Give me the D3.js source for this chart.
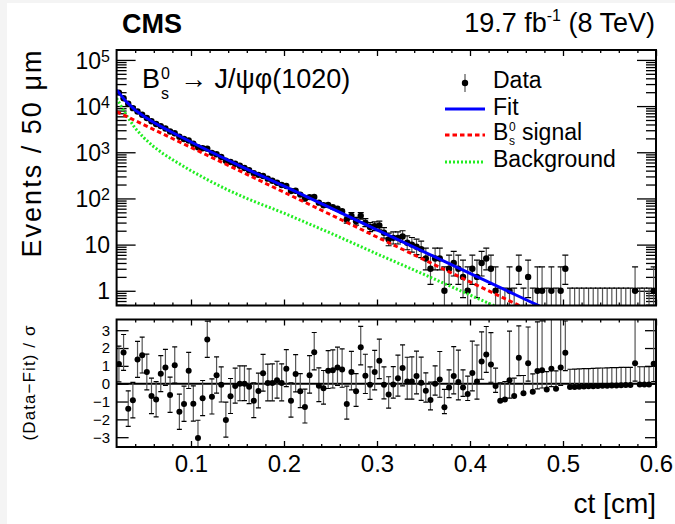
<!DOCTYPE html>
<html><head><meta charset="utf-8">
<script src="https://cdn.jsdelivr.net/npm/d3@7"></script>
<style>
body{margin:0;background:#fff}
svg{display:block}
text{font-family:"Liberation Sans",Arial,Helvetica,sans-serif;fill:#000}
</style>
</head><body>
<svg id="c" width="675" height="524"></svg>
<script>
// ---------------- data ----------------
const binStart = 0.02, binWidth = 0.005;   // 50 um bins
const counts = [19553,14832,11201,9031,7638,6508,5518,4702,4093,3684,
  3272,2816,2572,2165,1939,1801,1531,1286,1221,1198,
  972,903,792,656,617,566,510,457,407,350,
  324,307,268,241,219,195,186,145,147,121,
  99,107,108,81,71,72,65,60,53,35,
  42,32,42,30,24,25,26,18,13,14,
  14,15,11,10,9,8,5,3,5,5,
  1,3,4,3,2,1,3,2,4,5,
  3,1,0,0,1,0,3,0,2,0,
  1,1,0,1,0,1,3,0,0,0,
  0,0,0,0,0,0,0,0,0,0,
  0,1,0,0,0,1];
const pulls = [1.10,1.75,-1.40,-0.93,1.36,1.60,0.65,-0.69,-0.88,0.56,
  0.91,-0.63,1.04,-1.58,-1.14,0.73,-1.12,-3.05,-0.82,2.48,
  -0.73,0.47,-0.06,-2.03,-0.71,-0.13,0.00,0.00,-0.17,-0.95,
  -0.41,0.58,0.04,0.04,0.19,0.04,0.84,-0.95,0.54,-0.43,
  -1.30,0.47,1.77,-0.11,-0.26,0.73,0.76,0.91,0.80,-1.14,
  0.65,-0.43,2.05,0.45,-0.06,0.65,1.28,-0.06,-0.61,-0.04,
  0.30,0.88,0.13,0.13,0.43,0.06,-0.39,-0.91,0.00,0.24,
  -1.32,-0.22,0.43,0.09,-0.22,-0.58,0.60,0.13,1.25,1.64,
  1.08,-0.13,-0.95,-0.88,0.19,-0.69,1.45,-0.54,1.14,-0.45,
  0.71,0.76,-0.32,0.84,-0.28,0.91,1.73,-0.19,-0.18,-0.17,
  -0.16,-0.15,-0.14,-0.13,-0.12,-0.11,-0.10,-0.10,-0.09,-0.08,
  -0.08,1.14,-0.05,-0.05,-0.04,1.12];
const curveCt = [0.02,0.03,0.04,0.05,0.06,0.07,0.08,0.10,0.12,0.14,0.16,0.18,0.20,0.25,0.30,0.35,0.40,0.45,0.50];
const fitVals = [22377,12674,8164,5877,4423,3416,2678,1669,1053,671,433,282,184,62.4,20.9,7.07,2.37,0.80,0.27];
const sigVals = [7586,6067,4853,3882,3105,2483,1986,1271,813,520,333,213,136,44.6,14.6,4.78,1.56,0.512,0.168];
const bkgVals = [14791,6607,3311,1995,1318,933,692,398,240,151,100,69,48,17.8,6.3,2.29,0.81,0.29,0.10];
const xTickVals = [0.1,0.2,0.3,0.4,0.5,0.6];
const xTickLabels = ["0.1","0.2","0.3","0.4","0.5","0.6"];
const yTopTicks = [1,10,100,1000,10000,100000];
const yTopLabels = [["1",""],["10",""],["10","2"],["10","3"],["10","4"],["10","5"]];
const yBotTicks = [-3,-2,-1,0,1,2,3];
const yBotLabels = ["\u22123","\u22122","\u22121","0","1","2","3"];

// ---------------- layout ----------------
const svg = d3.select('#c');
const xL = 116.6, xR = 656;
const tY0 = 50, tY1 = 305.5, bY0 = 319.5, bY1 = 447;
const x = d3.scaleLinear().domain([0.02, 0.6]).range([xL, xR]);
const yT = d3.scaleLog().domain([0.48, 1.64e5]).range([tY1, tY0]);
const yB = d3.scaleLinear().domain([-3.55, 3.6]).range([bY1, bY0]);

svg.append('rect').attr('width',675).attr('height',524).attr('fill','#f4f4f4');
svg.append('rect').attr('x',7).attr('y',3).attr('width',668).attr('height',521).attr('fill','#fff');

const defs = svg.append('defs');
defs.append('clipPath').attr('id','clipT').append('rect').attr('x',xL).attr('y',tY0).attr('width',xR-xL).attr('height',tY1-tY0);
defs.append('clipPath').attr('id','clipB').append('rect').attr('x',xL).attr('y',bY0).attr('width',xR-xL).attr('height',bY1-bY0);

const centers = counts.map((_, i) => binStart + binWidth*(i+0.5));

function poisLo(n){ if(n===0) return 0; const a=1-1/(9*n)-1/(3*Math.sqrt(n)); return n*a*a*a; }
function poisHi(n){ if(n===0) return 1.147; const m=n+1; const a=1-1/(9*m)+1/(3*Math.sqrt(m)); return m*a*a*a; }

function styleAxis(g, w){ g.select('.domain').remove(); g.selectAll('.tick line').attr('stroke','#000').attr('stroke-width',w||1.3); }

const xMinor = d3.range(1,30).map(k => +(0.02*k).toFixed(2)).filter(v => v>0.02 && v<0.6 && Math.abs(v*10-Math.round(v*10))>1e-6);
const yMinor = [];
for (let k=-1;k<=5;k++) for (let m=2;m<=9;m++){ const v=m*Math.pow(10,k); if(v>=0.48 && v<=1.64e5) yMinor.push(v); }

// ---------------- top panel ----------------
const gT = svg.append('g');
gT.append('g').attr('transform',`translate(${xL},0)`).call(d3.axisLeft(yT).tickValues(yTopTicks).tickSize(-19).tickFormat('')).call(styleAxis);
gT.append('g').attr('transform',`translate(${xL},0)`).call(d3.axisLeft(yT).tickValues(yMinor).tickSize(-10).tickFormat('')).call(styleAxis);
gT.append('g').attr('transform',`translate(${xR},0)`).call(d3.axisRight(yT).tickValues(yTopTicks).tickSize(-19).tickFormat('')).call(styleAxis);
gT.append('g').attr('transform',`translate(${xR},0)`).call(d3.axisRight(yT).tickValues(yMinor).tickSize(-10).tickFormat('')).call(styleAxis);
gT.append('g').attr('transform',`translate(0,${tY1})`).call(d3.axisBottom(x).tickValues(xTickVals).tickSize(-6).tickFormat('')).call(styleAxis);
gT.append('g').attr('transform',`translate(0,${tY1})`).call(d3.axisBottom(x).tickValues(xMinor).tickSize(-3).tickFormat('')).call(styleAxis);
gT.append('g').attr('transform',`translate(0,${tY0})`).call(d3.axisTop(x).tickValues(xTickVals).tickSize(-6).tickFormat('')).call(styleAxis);
gT.append('g').attr('transform',`translate(0,${tY0})`).call(d3.axisTop(x).tickValues(xMinor).tickSize(-3).tickFormat('')).call(styleAxis);

yTopTicks.forEach((v,i)=>{
  const t = gT.append('text').attr('x',110).attr('y',yT(v)+ (yTopLabels[i][1] ? 9 : 8)).attr('text-anchor','end').attr('font-size',23);
  t.append('tspan').text(yTopLabels[i][0]);
  if (yTopLabels[i][1]) t.append('tspan').attr('font-size',16).attr('dy',-7).text(yTopLabels[i][1]);
});

// data points with Poisson error bars
const dT = gT.append('g').attr('clip-path','url(#clipT)');
counts.forEach((n,i)=>{
  const cx = x(centers[i]);
  const hi = poisHi(n), lo = poisLo(n);
  const yHi = yT(hi);
  const yLo = n===0 ? tY1+5 : yT(Math.max(lo, 0.2));
  const yc = n>0 ? yT(n) : tY1+5;
  if (n===0 || yLo-yc > 3.3 || yc-yHi > 3.3)
    dT.append('line').attr('x1',cx).attr('x2',cx).attr('y1',yLo).attr('y2',yHi).attr('stroke','#555').attr('stroke-width',1.2);
  if (n===0 || yc-yHi > 3.3)
    dT.append('line').attr('x1',cx-3).attr('x2',cx+3).attr('y1',yHi).attr('y2',yHi).attr('stroke','#000').attr('stroke-width',1.2);
  if (n>0 && lo>0.48 && yLo-yc > 3.3)
    dT.append('line').attr('x1',cx-3).attr('x2',cx+3).attr('y1',yLo).attr('y2',yLo).attr('stroke','#000').attr('stroke-width',1.2);
  if (n>0) dT.append('circle').attr('cx',cx).attr('cy',yc).attr('r',3.2).attr('fill','#000');
});

// fit curves
const mk = vals => curveCt.map((c,i)=>({x:c,y:vals[i]}));
const lineGen = d3.line().x(d=>x(d.x)).y(d=>yT(d.y));
const cT = gT.append('g').attr('clip-path','url(#clipT)');
cT.append('path').attr('d',lineGen(mk(bkgVals))).attr('fill','none').attr('stroke','#22ee22').attr('stroke-width',3).attr('stroke-dasharray','2,2');
cT.append('path').attr('d',lineGen(mk(sigVals))).attr('fill','none').attr('stroke','#ff0000').attr('stroke-width',3).attr('stroke-dasharray','4.5,3');
cT.append('path').attr('d',lineGen(mk(fitVals))).attr('fill','none').attr('stroke','#0000ff').attr('stroke-width',3);

gT.append('rect').attr('x',xL).attr('y',tY0).attr('width',xR-xL).attr('height',tY1-tY0).attr('fill','none').attr('stroke','#000').attr('stroke-width',2);

// process label (single text element)
const pl = gT.append('text').attr('x',142).attr('y',88).attr('font-size',27);
pl.append('tspan').text('B');
pl.append('tspan').attr('x',161).attr('dy',-9).attr('font-size',16).text('0');
pl.append('tspan').attr('x',161).attr('dy',20).attr('font-size',16).text('s');
pl.append('tspan').attr('x',180).attr('dy',-11).text('\u2192 J/\u03C8\u03C6(1020)');

// legend
const lg = svg.append('g');
lg.append('line').attr('x1',465).attr('x2',465).attr('y1',74).attr('y2',92).attr('stroke','#555').attr('stroke-width',1.2);
lg.append('circle').attr('cx',465).attr('cy',83).attr('r',3.2).attr('fill','#000');
lg.append('line').attr('x1',445).attr('x2',485).attr('y1',109).attr('y2',109).attr('stroke','#0000ff').attr('stroke-width',3);
lg.append('line').attr('x1',445).attr('x2',485).attr('y1',135).attr('y2',135).attr('stroke','#ff0000').attr('stroke-width',3).attr('stroke-dasharray','4.5,3');
lg.append('line').attr('x1',445).attr('x2',485).attr('y1',162).attr('y2',162).attr('stroke','#22ee22').attr('stroke-width',3).attr('stroke-dasharray','2,2');
lg.append('text').attr('x',493).attr('y',88).attr('font-size',23).text('Data');
lg.append('text').attr('x',493).attr('y',115).attr('font-size',23).text('Fit');
const sl = lg.append('text').attr('x',493).attr('y',140).attr('font-size',23);
sl.append('tspan').text('B');
sl.append('tspan').attr('x',509).attr('dy',-9).attr('font-size',12).text('0');
sl.append('tspan').attr('x',509).attr('dy',13.5).attr('font-size',12).text('s');
sl.append('tspan').attr('x',522).attr('dy',-4.5).text('signal');
lg.append('text').attr('x',493).attr('y',167).attr('font-size',23).text('Background');

// ---------------- bottom panel ----------------
const gB = svg.append('g');
gB.append('g').attr('transform',`translate(${xL},0)`).call(d3.axisLeft(yB).tickValues(yBotTicks).tickSize(-12).tickPadding(6.5).tickFormat((d,i)=>yBotLabels[i])).call(styleAxis)
  .call(g=>g.selectAll('text').attr('font-size',15).attr('font-family','"Liberation Sans",Arial,sans-serif').attr('fill','#000'));
gB.append('g').attr('transform',`translate(${xR},0)`).call(d3.axisRight(yB).tickValues(yBotTicks).tickSize(-11).tickFormat('')).call(styleAxis);
gB.append('g').attr('transform',`translate(0,${bY1})`).call(d3.axisBottom(x).tickValues(xTickVals).tickSize(-6).tickPadding(8).tickFormat((d,i)=>xTickLabels[i])).call(styleAxis)
  .call(g=>g.selectAll('text').attr('font-size',24).attr('font-family','"Liberation Sans",Arial,sans-serif').attr('fill','#000'));
gB.append('g').attr('transform',`translate(0,${bY1})`).call(d3.axisBottom(x).tickValues(xMinor).tickSize(-3).tickFormat('')).call(styleAxis);
gB.append('g').attr('transform',`translate(0,${bY0})`).call(d3.axisTop(x).tickValues(xTickVals).tickSize(-6).tickFormat('')).call(styleAxis);
gB.append('g').attr('transform',`translate(0,${bY0})`).call(d3.axisTop(x).tickValues(xMinor).tickSize(-3).tickFormat('')).call(styleAxis);

const dB = gB.append('g').attr('clip-path','url(#clipB)');
dB.append('line').attr('x1',xL).attr('x2',xR).attr('y1',yB(0)).attr('y2',yB(0)).attr('stroke','#000').attr('stroke-width',2);
pulls.forEach((p,i)=>{
  const n = counts[i], cx = x(centers[i]);
  let up = 1, dn = 1;
  if (n===0){ up = 1; dn = 0; }
  else {
    const L = poisLo(n), U = poisHi(n);
    if (p > 0) up = (U-n)/(n-L); else dn = (n-L)/(U-n);
  }
  const y1 = yB(p+up), y2 = yB(p-dn);
  dB.append('line').attr('x1',cx).attr('x2',cx).attr('y1',y1).attr('y2',y2).attr('stroke','#555').attr('stroke-width',1.2);
  dB.append('line').attr('x1',cx-2.5).attr('x2',cx+2.5).attr('y1',y1).attr('y2',y1).attr('stroke','#000').attr('stroke-width',1.2);
  if (dn>0) dB.append('line').attr('x1',cx-2.5).attr('x2',cx+2.5).attr('y1',y2).attr('y2',y2).attr('stroke','#000').attr('stroke-width',1.2);
  dB.append('circle').attr('cx',cx).attr('cy',yB(p)).attr('r',3).attr('fill','#000');
});
gB.append('rect').attr('x',xL).attr('y',bY0).attr('width',xR-xL).attr('height',bY1-bY0).attr('fill','none').attr('stroke','#000').attr('stroke-width',2);

// ---------------- titles ----------------
svg.append('text').attr('x',122).attr('y',33).attr('font-size',27).attr('font-weight','bold').text('CMS');
const lumi = svg.append('text').attr('x',655).attr('y',32).attr('text-anchor','end').attr('font-size',27);
lumi.append('tspan').text('19.7 fb');
lumi.append('tspan').attr('font-size',16).attr('dy',-11).text('-1');
lumi.append('tspan').attr('dy',11).text(' (8 TeV)');
svg.append('text').attr('transform','translate(41,154) rotate(-90)').attr('text-anchor','middle').attr('font-size',27)
  .attr('textLength',207).attr('lengthAdjust','spacing').text('Events / 50 \u03BCm');
svg.append('text').attr('transform','translate(35,383) rotate(-90)').attr('text-anchor','middle').attr('font-size',17)
  .attr('textLength',115).attr('lengthAdjust','spacing').text('(Data\u2212Fit) / \u03C3');
svg.append('text').attr('x',656).attr('y',513).attr('text-anchor','end').attr('font-size',28).text('ct [cm]');
</script>
</body></html>
